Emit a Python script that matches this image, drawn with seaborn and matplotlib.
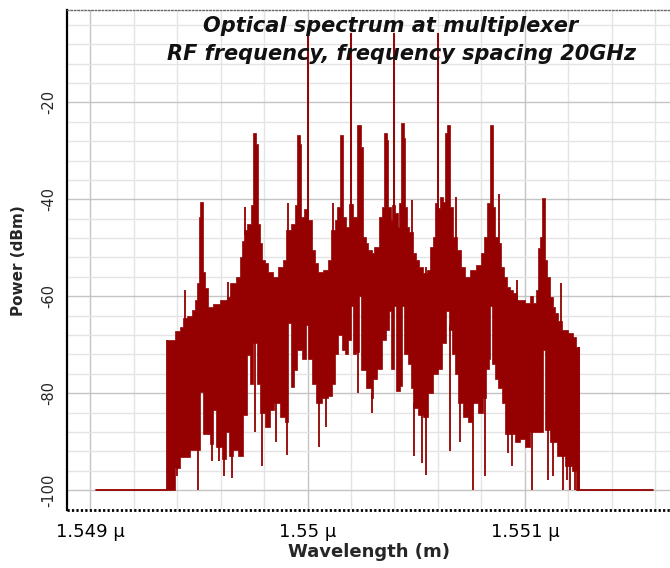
import numpy as np
import matplotlib
matplotlib.use("Agg")
import matplotlib.pyplot as plt
from matplotlib.ticker import MultipleLocator, FuncFormatter
import seaborn as sns

# wavelength in nm, power in dBm
base_left_nm = [1549.026, 1549.354]
base_right_nm = [1551.248, 1551.589]
floor_db = -100
band_end_nm = 1551.248

# top edge of the dense spectrum (step knots)
upper_nm = [1549.354, 1549.391, 1549.414, 1549.428, 1549.446, 1549.469, 1549.483, 1549.492, 1549.501, 1549.506,
            1549.520, 1549.529, 1549.543, 1549.566, 1549.598, 1549.630, 1549.644, 1549.671, 1549.690, 1549.699,
            1549.708, 1549.722, 1549.740, 1549.749, 1549.763, 1549.772, 1549.782, 1549.791, 1549.805, 1549.818,
            1549.841, 1549.864, 1549.887, 1549.901, 1549.924, 1549.943, 1549.952, 1549.966, 1549.970, 1549.984,
            1550.002, 1550.021, 1550.034, 1550.048, 1550.071, 1550.094, 1550.108, 1550.126, 1550.136, 1550.149,
            1550.163, 1550.177, 1550.191, 1550.209, 1550.228, 1550.246, 1550.255, 1550.269, 1550.278, 1550.297,
            1550.306, 1550.329, 1550.343, 1550.352, 1550.366, 1550.370, 1550.384, 1550.389, 1550.402, 1550.416,
            1550.421, 1550.430, 1550.444, 1550.448, 1550.457, 1550.467, 1550.485, 1550.499, 1550.513, 1550.531,
            1550.549, 1550.563, 1550.577, 1550.586, 1550.600, 1550.609, 1550.623, 1550.632, 1550.641, 1550.655,
            1550.669, 1550.687, 1550.706, 1550.724, 1550.747, 1550.775, 1550.798, 1550.811, 1550.825, 1550.839,
            1550.853, 1550.862, 1550.876, 1550.890, 1550.903, 1550.917, 1550.931, 1550.945, 1550.963, 1551.000,
            1551.023, 1551.037, 1551.051, 1551.060, 1551.069, 1551.078, 1551.092, 1551.101, 1551.115, 1551.129,
            1551.138, 1551.152, 1551.170, 1551.198, 1551.221, 1551.234]
upper_db = [-69.1, -67.2, -66.4, -64.5, -64.0, -62.9, -60.8, -57.3, -43.7, -40.6,
            -55.0, -58.3, -62.3, -61.5, -60.8, -60.2, -57.3, -56.0, -52.0, -48.5,
            -46.4, -45.0, -41.2, -26.4, -28.5, -45.0, -49.0, -52.6, -53.2, -55.0,
            -56.1, -54.0, -52.6, -46.4, -45.0, -41.2, -26.8, -28.5, -43.7, -41.9,
            -44.3, -50.5, -53.2, -55.0, -54.6, -52.6, -46.4, -44.3, -41.6, -26.8,
            -43.7, -45.8, -41.0, -43.7, -24.7, -29.3, -47.8, -49.1, -50.5, -51.1,
            -49.9, -43.7, -41.6, -26.4, -27.8, -41.6, -44.3, -41.2, -42.9, -45.8,
            -40.8, -24.3, -27.4, -41.6, -45.8, -46.8, -51.1, -52.6, -54.0, -55.3,
            -54.6, -49.9, -47.8, -40.8, -41.8, -39.6, -40.5, -26.4, -24.7, -41.6,
            -47.8, -50.5, -54.0, -56.1, -54.6, -53.6, -51.1, -47.8, -40.8, -24.7,
            -41.6, -47.8, -49.1, -54.0, -56.1, -58.0, -58.8, -59.4, -60.8, -61.4,
            -60.0, -61.4, -58.8, -50.0, -47.8, -39.8, -52.6, -56.1, -60.2, -62.3,
            -63.5, -65.0, -67.0, -67.6, -68.4, -70.5]

# bottom edge of the solid part
lower_nm = [1549.354, 1549.391, 1549.414, 1549.460, 1549.506, 1549.520, 1549.552, 1549.566, 1549.579, 1549.607,
            1549.625, 1549.639, 1549.657, 1549.680, 1549.703, 1549.722, 1549.736, 1549.749, 1549.768, 1549.782,
            1549.805, 1549.828, 1549.846, 1549.874, 1549.897, 1549.910, 1549.924, 1549.938, 1549.952, 1549.975,
            1549.993, 1550.002, 1550.021, 1550.039, 1550.067, 1550.094, 1550.113, 1550.126, 1550.140, 1550.159,
            1550.172, 1550.186, 1550.200, 1550.209, 1550.223, 1550.237, 1550.246, 1550.269, 1550.292, 1550.301,
            1550.320, 1550.343, 1550.361, 1550.375, 1550.384, 1550.398, 1550.407, 1550.425, 1550.434, 1550.444,
            1550.462, 1550.476, 1550.485, 1550.508, 1550.531, 1550.554, 1550.577, 1550.600, 1550.618, 1550.637,
            1550.651, 1550.664, 1550.678, 1550.692, 1550.715, 1550.738, 1550.756, 1550.784, 1550.807, 1550.821,
            1550.834, 1550.839, 1550.848, 1550.862, 1550.876, 1550.894, 1550.908, 1550.954, 1550.977, 1551.000,
            1551.023, 1551.083, 1551.092, 1551.115, 1551.147, 1551.184, 1551.216, 1551.234]
lower_db = [-100.0, -95.5, -93.2, -91.7, -79.8, -88.5, -90.5, -83.5, -91.0, -93.5,
            -88.0, -93.0, -91.7, -93.0, -84.5, -72.2, -78.0, -69.7, -78.0, -84.0,
            -87.0, -83.5, -82.0, -85.0, -86.0, -65.6, -78.8, -75.3, -71.0, -73.0,
            -66.0, -73.0, -78.0, -82.0, -81.0, -80.5, -78.0, -72.0, -68.0, -71.0,
            -72.0, -69.0, -62.0, -72.0, -71.5, -60.0, -75.3, -79.0, -81.0, -77.0,
            -75.0, -69.0, -67.0, -63.0, -75.0, -62.0, -79.5, -78.5, -62.0, -72.0,
            -74.0, -79.0, -83.0, -84.5, -85.0, -80.0, -76.0, -75.0, -69.7, -63.0,
            -67.0, -72.0, -76.0, -82.0, -85.0, -86.0, -82.0, -84.0, -81.0, -75.0,
            -73.0, -62.0, -74.0, -77.0, -79.0, -82.0, -88.5, -90.0, -89.5, -91.0,
            -88.0, -71.1, -87.5, -90.0, -93.0, -95.0, -96.0, -100.0]

# single deep dips below the solid part
dip_nm = [1549.359, 1549.377, 1549.400, 1549.497, 1549.561, 1549.593, 1549.616, 1549.653, 1549.759, 1549.791,
          1549.855, 1549.906, 1550.053, 1550.085, 1550.232, 1550.297, 1550.490, 1550.526, 1550.545, 1550.655,
          1550.701, 1550.761, 1550.816, 1550.922, 1550.940, 1551.032, 1551.106, 1551.129, 1551.175, 1551.193,
          1551.207, 1551.230]
dip_db = [-100, -100, -97, -100, -94, -94, -97, -97.5, -88, -95,
          -90, -92.8, -91, -87, -80, -84, -93, -94.4, -96.9, -92,
          -90, -100, -97, -92.4, -95, -100, -98, -97, -100, -98,
          -100, -100]

# narrow lines above the top edge
spike_nm = [1549.437, 1549.634, 1549.713, 1549.910, 1550.117, 1550.480, 1550.545, 1550.683, 1550.880, 1550.963, 1551.166]
spike_db = [-58.8, -57.0, -41.6, -40.8, -40.8, -40.2, -54.0, -39.6, -39.0, -56.7, -57.3]

# channel carriers
carrier_nm = [1550.002, 1550.200, 1550.398, 1550.600]
carrier_db = [-5.8, -5.8, -5.8, -5.8]

red = "#950000"


def step_xy(xs, ys, x_end):
    xs = np.asarray(xs, float)
    ends = np.r_[xs[1:], x_end]
    return np.column_stack([xs, ends]).ravel(), np.repeat(np.asarray(ys, float), 2)


def step_at(xs, ys, q):
    i = np.searchsorted(xs, q, side="right") - 1
    return np.asarray(ys)[np.clip(i, 0, len(ys) - 1)]


sns.set_style("white")
plt.rcParams["font.family"] = ["DejaVu Sans"]
plt.rcParams["axes.unicode_minus"] = False

fig = plt.figure(figsize=(6.7, 5.68), dpi=100)
ax = fig.add_axes([0.1, 0.102, 0.9, 0.880])

ux, uy = step_xy(upper_nm, upper_db, band_end_nm)
lx, ly = step_xy(lower_nm, lower_db, band_end_nm)
ax.fill(np.r_[ux, lx[::-1]], np.r_[uy, ly[::-1]], color=red, lw=0.5, zorder=3)

ax.vlines(dip_nm, dip_db, step_at(lower_nm, lower_db, dip_nm) + 1, color=red, lw=1.3, zorder=3)
ax.vlines(spike_nm, step_at(upper_nm, upper_db, spike_nm) - 1, spike_db, color=red, lw=1.3, zorder=3)
ax.vlines(carrier_nm, step_at(upper_nm, upper_db, carrier_nm) - 1, carrier_db, color=red, lw=1.4, zorder=3)

sns.lineplot(x=base_left_nm, y=[floor_db] * 2, ax=ax, color=red, lw=1.3, zorder=3)
sns.lineplot(x=base_right_nm, y=[floor_db] * 2, ax=ax, color=red, lw=1.3, zorder=3)
ax.vlines([base_left_nm[1], band_end_nm], floor_db, [upper_db[0], upper_db[-1]], color=red, lw=1.3, zorder=3)

ax.set_xlim(1548.894, 1551.667)
ax.set_ylim(-104.1, -1.0)

ax.xaxis.set_major_locator(MultipleLocator(1))
ax.xaxis.set_minor_locator(MultipleLocator(0.2))
ax.yaxis.set_major_locator(MultipleLocator(20))
ax.yaxis.set_minor_locator(MultipleLocator(4))
ax.xaxis.set_major_formatter(FuncFormatter(lambda v, p: f"{v / 1000:g} µ"))
ax.grid(True, which="major", color="#c4c4c4", lw=1.0, zorder=0)
ax.grid(True, which="minor", color="#e4e4e4", lw=1.0, zorder=0)
ax.set_axisbelow(True)

ax.tick_params(axis="x", which="both", direction="out", length=3, width=1.2, color="black",
               labelsize=13, pad=6, colors="black")
ax.tick_params(axis="y", which="both", direction="inout", length=7, width=1.2, color="black",
               labelsize=10.5, pad=4, labelrotation=90)
for lbl in ax.get_yticklabels():
    lbl.set_va("center")

ax.spines["right"].set_visible(False)
ax.spines["left"].set_color("black")
ax.spines["left"].set_linewidth(1.6)
ax.spines["bottom"].set_color("black")
ax.spines["bottom"].set_linewidth(2.0)
ax.spines["bottom"].set_linestyle((0, (0.8, 0.8)))
ax.spines["bottom"].set_capstyle("butt")
ax.spines["top"].set_color("#666666")
ax.spines["top"].set_linewidth(1.0)
ax.spines["top"].set_linestyle((0, (1, 1.5)))

ax.set_xlabel("Wavelength (m)", fontsize=13, fontweight="bold", labelpad=2)
ax.set_ylabel("Power (dBm)", fontsize=11, fontweight="bold", labelpad=11)

ax.text(0.537, 0.968, "Optical spectrum at multiplexer", transform=ax.transAxes, ha="center", va="center",
        fontsize=15, fontweight="bold", style="italic", color="#111111", zorder=5)
ax.text(0.554, 0.912, "RF frequency, frequency spacing 20GHz", transform=ax.transAxes, ha="center", va="center",
        fontsize=15, fontweight="bold", style="italic", color="#111111", zorder=5)

fig.savefig("out.png", dpi=100)
